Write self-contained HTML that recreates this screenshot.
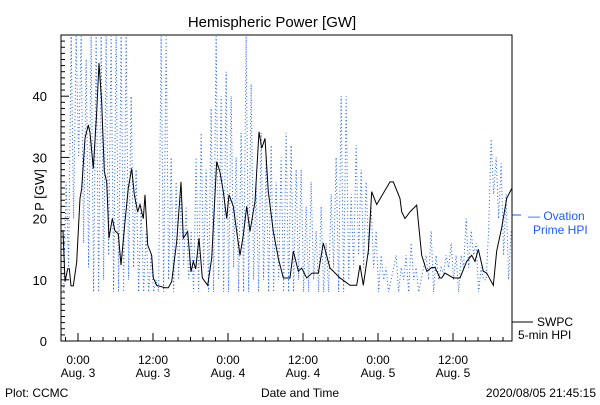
<!DOCTYPE html>
<html><head><meta charset="utf-8"><style>
body{margin:0;background:#fff}
svg text{font-family:"Liberation Sans",sans-serif}
</style></head><body>
<svg id="c" width="600" height="400" xmlns="http://www.w3.org/2000/svg">
<rect width="600" height="400" fill="#fff"/>
<text x="272" y="27" font-size="15" text-anchor="middle">Hemispheric Power [GW]</text>
<text transform="translate(44,190) rotate(-90)" font-size="13" text-anchor="middle">P [GW]</text>
<text x="300" y="397" font-size="12" text-anchor="middle">Date and Time</text>
<text x="5" y="397" font-size="12">Plot: CCMC</text>
<text x="596" y="397" font-size="12" text-anchor="end">2020/08/05 21:45:15</text>
<g>
<text x="528" y="220" font-size="12" fill="#1a5cff">— Ovation</text>
<text x="533" y="234" font-size="12" fill="#1a5cff">Prime HPI</text>
<line x1="512" y1="215" x2="521" y2="215" stroke="#1a5cff"/>
</g>
<g>
<text x="537" y="326" font-size="12">SWPC</text>
<text x="518" y="339" font-size="12">5-min HPI</text>
<line x1="512" y1="322" x2="533" y2="322" stroke="#000"/>
</g>
<g id="axes"></g>
<g id="series"></g>
<rect x="61" y="35" width="451" height="306" fill="none" stroke="#000"/>
</svg>
<script>
const yTicks=[0,10,20,30,40];
const xTickHours=[0,12,24,36,48,60];
const xTickTimes=["0:00","12:00","0:00","12:00","0:00","12:00"];
const xTickDays=["Aug. 3","Aug. 3","Aug. 4","Aug. 4","Aug. 5","Aug. 5"];
const swpcT=[-2.72,-2.4,-2.08,-1.65,-1.39,-1.12,-0.75,-0.21,0.32,0.59,1.12,1.65,1.92,2.45,2.99,3.36,3.79,4.21,4.59,4.96,5.49,5.92,6.45,6.88,7.52,8.05,8.59,9.01,9.55,9.92,10.45,10.72,11.15,11.79,12.05,12.59,13.92,14.45,14.99,15.79,16.48,16.85,17.55,18.08,18.45,18.83,19.36,19.89,20.75,21.39,22.19,22.72,23.25,23.79,24.16,24.85,25.39,25.92,26.45,26.99,27.52,28.32,28.96,29.39,29.92,30.45,31.25,32.05,32.85,33.92,34.45,35.25,35.79,36.59,37.44,38.45,39.25,40.32,40.85,41.92,43.52,44.59,45.12,45.65,46.45,46.99,47.79,49.92,50.45,51.52,51.79,52.32,53.12,54.19,54.99,55.79,56.59,57.12,57.92,58.19,58.72,60.05,61.12,62.19,62.99,63.52,64.05,64.85,65.39,66.45,66.99,67.79,68.59,69.39];
const swpcV=[17.9,18,9.7,11.8,11.8,9,9,12.9,23.3,24.9,33.1,35.3,34,28.2,37.4,45.4,39,27.7,26,16.8,20,18,17.5,12.4,19.5,25,28.2,23.9,21.1,22.3,20,23.9,15.7,14,10.3,9.1,8.7,8.7,9.7,16.2,26,16.8,17.9,11.3,13,11.8,16.8,10.3,9.1,13.5,29.3,27.6,24.4,20,23.9,22,17.9,14,17.3,22,17.9,22.8,34.2,31.5,33.1,24.4,17.9,13.5,10.3,10.3,14.7,11.4,11.9,10.3,11.1,11.1,16,11.9,11.4,10.3,9.1,9.1,12.4,9.1,14.7,24.4,22.3,26,26,23.3,21.1,20,21.1,22.2,14,11.4,12,12,10.3,10.3,11.1,10.3,10.3,13,14,13,15,11.4,11.1,9.1,14.7,18.5,23.3,24.9,24.9];
const ovT=[-2.7,-2.3,-1.9,-1.5,-1.1,-0.7,-0.3,0.1,0.5,0.9,1.3,1.7,2.1,2.5,2.9,3.3,3.7,4.1,4.5,4.9,5.3,5.7,6.1,6.5,6.9,7.3,7.7,8.1,8.5,8.9,9.3,9.7,10.1,10.5,10.9,11.3,11.7,12.1,12.5,12.9,13.3,13.7,14.1,14.5,14.9,15.3,15.7,16.1,16.5,16.9,17.3,17.7,18.1,18.5,18.9,19.3,19.7,20.1,20.5,20.9,21.3,21.7,22.1,22.5,22.9,23.3,23.7,24.1,24.5,24.9,25.3,25.7,26.1,26.5,26.9,27.3,27.7,28.1,28.5,28.9,29.3,29.7,30.1,30.5,30.9,31.3,31.7,32.1,32.5,32.9,33.3,33.7,34.1,34.5,34.9,35.3,35.7,36.1,36.5,36.9,37.3,37.7,38.1,38.5,38.9,39.3,39.7,40.1,40.5,40.9,41.3,41.7,42.1,42.5,42.9,43.3,43.7,44.1,44.5,44.9,45.3,45.7,46.1,46.5,46.9,47.3,47.7,48.1,48.5,48.9,49.3,49.7,50.1,50.5,50.9,51.3,51.7,52.1,52.5,52.9,53.3,53.7,54.1,54.5,54.9,55.3,55.7,56.1,56.5,56.9,57.3,57.7,58.1,58.5,58.9,59.3,59.7,60.1,60.5,60.9,61.3,61.7,62.1,62.5,62.9,63.3,63.7,64.1,64.5,64.9,65.3,65.7,66.1,66.5,66.9,67.3,67.7,68.1,68.5,68.9,69.3];
const ovV=[8,8,26,12,50,20,50,30,50,16,46,12,50,8,50,8,50,10,50,14,50,8,50,8,50,8,50,10,40,12,28,8,22,8,18,8,14,8,10,8,50,8,50,10,30,8,26,10,24,12,22,10,18,8,30,8,34,12,28,8,38,8,50,10,40,8,44,8,40,12,30,8,34,8,50,8,42,10,26,8,34,10,30,8,32,8,26,10,30,8,34,8,32,8,28,10,28,8,22,8,26,10,18,8,22,8,16,8,24,12,30,8,40,8,40,10,24,12,32,14,28,12,26,14,22,12,18,8,14,10,12,8,10,12,14,8,12,10,14,8,16,10,12,8,10,12,14,10,18,8,14,10,12,11,14,12,16,10,14,8,14,12,20,12,18,14,16,8,12,10,10,18,33,24,30,20,29,14,24,10,18,22];
const X=h=>78+h*6.25, Y=v=>341-v*6.12;
const NS="http://www.w3.org/2000/svg";
const ax=document.getElementById('axes'), se=document.getElementById('series');
function mk(t,a,p){const e=document.createElementNS(NS,t);for(const k in a)e.setAttribute(k,a[k]);p.appendChild(e);return e;}
for(let v=0;v<=49;v++){
 const l=mk('line',{x1:61,x2:61+(v%10==0?8:4),y1:Y(v),y2:Y(v),stroke:'#000'},ax);
 
 
}
yTicks.forEach(v=>{
 const t=mk('text',{x:47,y:Y(v)+5,'font-size':13,'text-anchor':'end'},ax);t.textContent=v;
 
 
});
for(let h=-2;h<=69;h+=2){
 const l=mk('line',{x1:X(h),x2:X(h),y1:341,y2:341-(h%12==0?8:4),stroke:'#000'},ax);
 
 
}
xTickHours.forEach((h,i)=>{
 const t=mk('text',{x:X(h),y:364,'font-size':12,'text-anchor':'middle'},ax);t.textContent=xTickTimes[i];
 
 
 const d=mk('text',{x:X(h),y:377,'font-size':12,'text-anchor':'middle'},ax);d.textContent=xTickDays[i];
 
 
});
const ov=mk('polyline',{points:ovT.map((t,i)=>X(t)+','+Y(Math.min(ovV[i],49.8))).join(' '),fill:'none',stroke:'#1a5cff','stroke-width':1,'stroke-dasharray':'1,2.5'},se);


const sw=mk('polyline',{points:swpcT.map((t,i)=>X(t)+','+Y(swpcV[i])).join(' '),fill:'none',stroke:'#000','stroke-width':1},se);


</script>
</body></html>
